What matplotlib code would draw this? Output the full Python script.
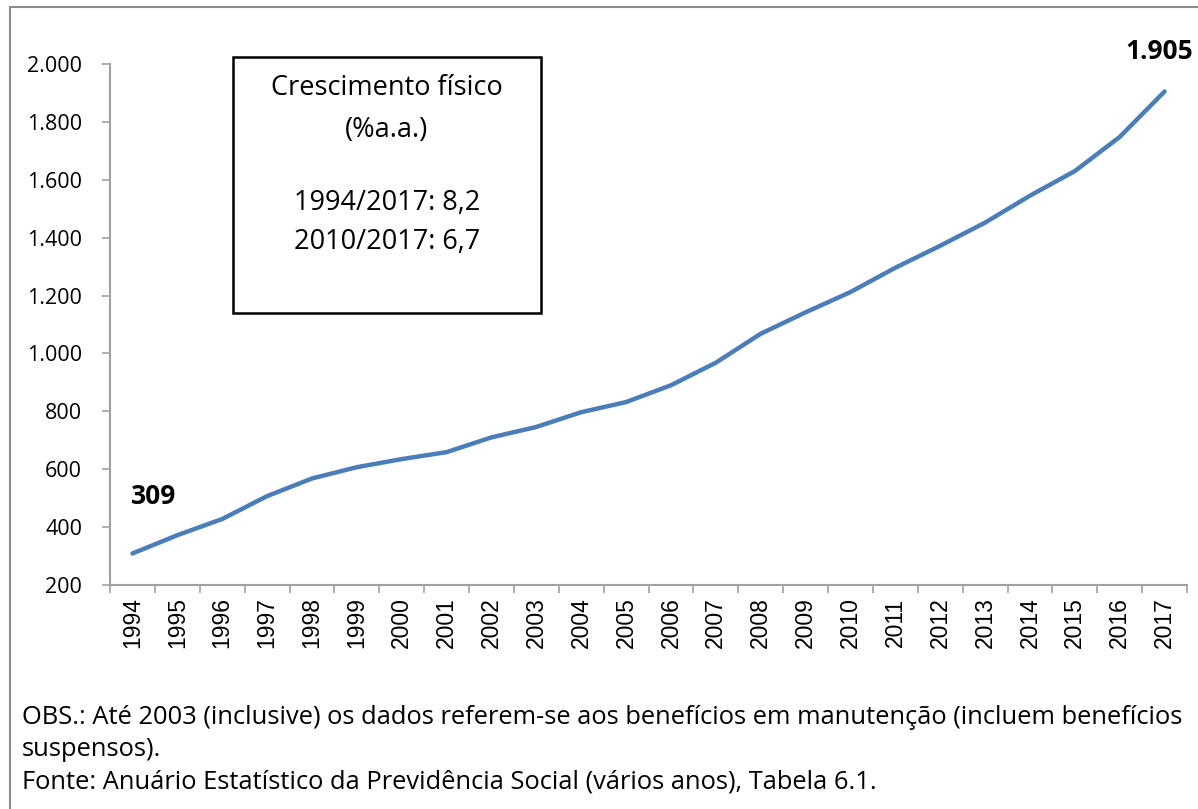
import numpy as np
import matplotlib
matplotlib.use('Agg')
import matplotlib.pyplot as plt
from matplotlib.lines import Line2D
from matplotlib.patches import Rectangle

# Benefícios (mil)
anos = [str(a) for a in range(1994, 2018)]
valores = [309, 372, 428, 507, 568, 607, 635, 659, 710, 746, 797, 832,
           890, 968, 1068, 1142, 1212, 1296, 1372, 1452, 1545, 1630, 1748, 1905]
yticks = [200, 400, 600, 800, 1000, 1200, 1400, 1600, 1800, 2000]
ytick_labels = ['200', '400', '600', '800', '1.000', '1.200', '1.400',
                '1.600', '1.800', '2.000']
box_lines = ['Crescimento físico', '(%a.a.)', '', '1994/2017: 8,2', '2010/2017: 6,7']
nota = ['OBS.: Até 2003 (inclusive) os dados referem-se aos benefícios em manutenção (incluem benefícios',
        'suspensos).',
        'Fonte: Anuário Estatístico da Previdência Social (vários anos), Tabela 6.1.']

plt.rcParams['font.family'] = ['Open Sans', 'DejaVu Sans']

W, H = 1198, 809
fig = plt.figure(figsize=(W / 100, H / 100), dpi=100)
ax = fig.add_axes([110 / W, 1 - 585 / H, (1187 - 110) / W, (585 - 64) / H])

x = np.arange(len(anos))
ax.plot(x, valores, color='#4a7ebb', lw=3.2, solid_capstyle='round')

ax.set_xlim(-0.5, len(anos) - 0.5)
ax.set_ylim(200, 2000)
ax.set_yticks(yticks)
ax.set_yticklabels(ytick_labels, fontsize=15.5)
ax.set_xticks(x)
ax.set_xticklabels(anos, rotation=90, fontsize=16.5, family='Liberation Sans')
ax.set_xticks(np.arange(-0.5, len(anos)), minor=True)
ax.tick_params(axis='x', which='major', length=0, pad=9)
ax.tick_params(axis='x', which='minor', length=6, color='#a0a0a0', width=1.2)
ax.tick_params(axis='y', length=6, color='#a0a0a0', width=1.2, pad=14)

for s in ['top', 'right']:
    ax.spines[s].set_visible(False)
for s in ['left', 'bottom']:
    ax.spines[s].set_color('#a0a0a0')
    ax.spines[s].set_linewidth(1.5)

ax.annotate(f'{valores[0]}', (x[0], valores[0]), xytext=(-1, 31),
            textcoords='offset points', ha='left', va='bottom',
            fontsize=19, fontweight='bold')
ax.annotate(f'{valores[-1]:,}'.replace(',', '.'), (x[-1], valores[-1]),
            xytext=(-4, 19), textcoords='offset points', ha='center', va='bottom',
            fontsize=19, fontweight='bold', annotation_clip=False)

# caixa de texto
fig.patches.append(Rectangle((233 / W, 1 - 313 / H), (541 - 233) / W, (313 - 57) / H,
                             transform=fig.transFigure, fill=False, ec='black', lw=1.8))
ys = [88, 130, 166, 203, 242]
for t, yy in zip(box_lines, ys):
    if t:
        fig.text(387 / W, 1 - yy / H, t, ha='center', va='center', fontsize=19.5)

for i, t in enumerate(nota):
    fig.text(22 / W, 1 - (718 + 32 * i) / H, t, ha='left', va='center', fontsize=18.4)

# moldura cinza
fig.lines.append(Line2D([10 / W, 10 / W], [0, 1 - 7 / H], transform=fig.transFigure,
                        color='#8c8c8c', lw=1.5))
fig.lines.append(Line2D([10 / W, 1], [1 - 7 / H, 1 - 7 / H], transform=fig.transFigure,
                        color='#8c8c8c', lw=1.5))

fig.savefig('out.png', dpi=100)
